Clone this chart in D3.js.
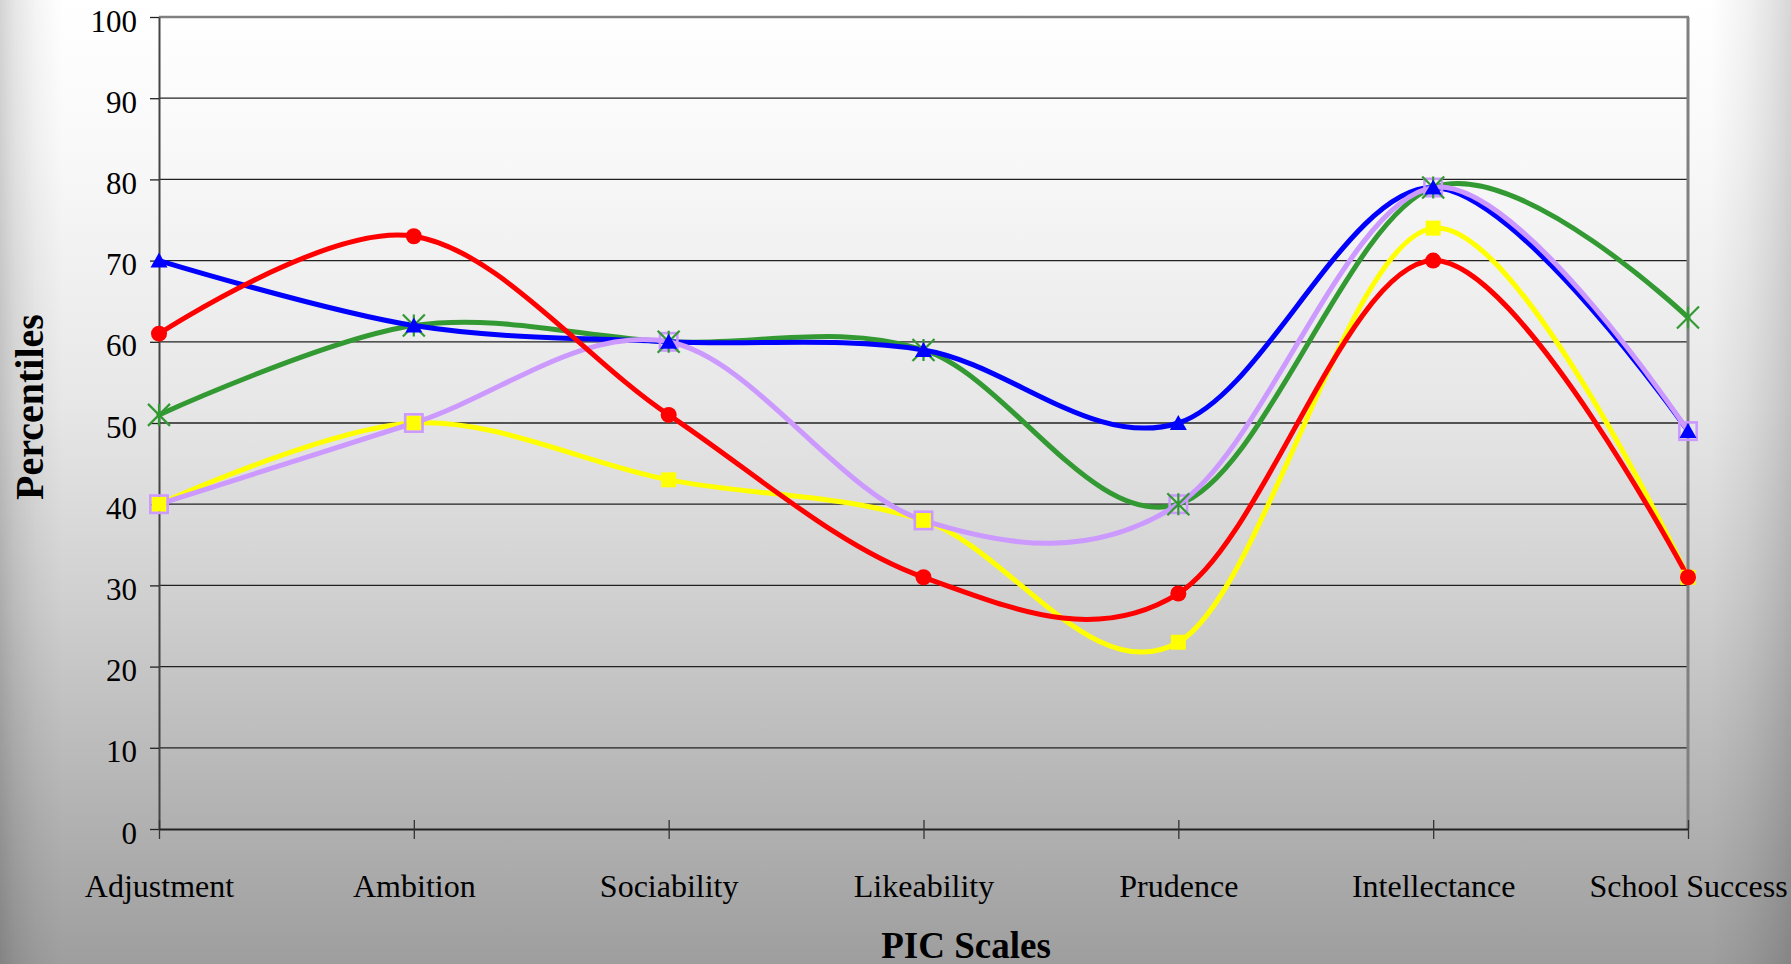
<!DOCTYPE html>
<html>
<head>
<meta charset="utf-8">
<script src="https://cdn.jsdelivr.net/npm/d3@7"></script>
<style>
  html, body { margin: 0; padding: 0; background: #ffffff; }
  svg { display: block; }
</style>
</head>
<body>
<svg id="chart" width="1791" height="964"></svg>
<script>
// PIC scale percentiles, one profile per colour
const categories = ["Adjustment", "Ambition", "Sociability", "Likeability", "Prudence", "Intellectance", "School Success"];
const yTicks = [0, 10, 20, 30, 40, 50, 60, 70, 80, 90, 100];

const greenValues    = [51, 62, 60, 59, 40, 79, 63];
const blueValues     = [70, 62, 60, 59, 50, 79, 49];
const yellowValues   = [40, 50, 43, 38, 23, 74, 31];
const lavenderValues = [40, 50, 60, 38, 40, 79, 49];
const redValues      = [61, 73, 51, 31, 29, 70, 31];

const W = 1791, H = 964;
const plot = { left: 159, right: 1688, top: 17, bottom: 829 };

const svg = d3.select("#chart");
const defs = svg.append("defs");

// Page background: light at the top, darker grey towards the bottom
const vGrad = defs.append("linearGradient").attr("id", "bgV")
  .attr("x1", 0).attr("y1", 0).attr("x2", 0).attr("y2", 1);
[[0, 255], [0.15, 249], [0.42, 231], [0.62, 208], [0.73, 193], [0.86, 176], [1, 158]]
  .forEach(([o, v]) => vGrad.append("stop").attr("offset", o).attr("stop-color", d3.rgb(v, v, v)));

// Side shading along the left and right page edges
const hGrad = defs.append("linearGradient").attr("id", "bgH")
  .attr("x1", 0).attr("y1", 0).attr("x2", 1).attr("y2", 0);
[[0, 0.17], [0.008, 0.1], [0.02, 0.04], [0.035, 0], [0.955, 0], [0.975, 0.05], [0.99, 0.11], [1, 0.16]]
  .forEach(([o, a]) => hGrad.append("stop").attr("offset", o).attr("stop-color", "#000").attr("stop-opacity", a));

svg.append("rect").attr("width", W).attr("height", H).attr("fill", "url(#bgV)");
svg.append("rect").attr("width", W).attr("height", H).attr("fill", "url(#bgH)");

const x = d3.scalePoint().domain(categories).range([plot.left, plot.right]).padding(0);
const y = d3.scaleLinear().domain([0, 100]).range([plot.bottom, plot.top]);

const serif = "'Liberation Serif', 'Times New Roman', Times, serif";

// Horizontal gridlines
svg.append("g").selectAll("line")
  .data(yTicks.filter(t => t > 0 && t < 100))
  .join("line")
  .attr("x1", plot.left).attr("x2", plot.right)
  .attr("y1", d => y(d)).attr("y2", d => y(d))
  .attr("stroke", "#222").attr("stroke-width", 1.3);

// Plot frame: top and right edges in grey
svg.append("line").attr("x1", plot.left).attr("x2", plot.right + 1)
  .attr("y1", plot.top).attr("y2", plot.top)
  .attr("stroke", "#808080").attr("stroke-width", 2.5);
svg.append("line").attr("x1", plot.right).attr("x2", plot.right)
  .attr("y1", plot.top).attr("y2", plot.bottom)
  .attr("stroke", "#808080").attr("stroke-width", 3);

// Y axis
const yAxis = svg.append("g")
  .attr("transform", `translate(${plot.left},0)`)
  .call(d3.axisLeft(y).tickValues(yTicks).tickSize(9).tickSizeOuter(0).tickPadding(13));
yAxis.select(".domain").attr("stroke", "#444").attr("stroke-width", 2);
yAxis.selectAll(".tick line").attr("stroke", "#222").attr("stroke-width", 1.3);
yAxis.selectAll(".tick text")
  .attr("dy", 14).attr("fill", "#000")
  .style("font-family", serif).style("font-size", "31px");

// X axis with ticks crossing the axis line
const xAxis = svg.append("g")
  .attr("transform", `translate(0,${plot.bottom})`)
  .call(d3.axisBottom(x).tickSize(10).tickSizeOuter(0));
xAxis.select(".domain").attr("stroke", "#222").attr("stroke-width", 2);
xAxis.selectAll(".tick line").attr("y1", -9).attr("stroke", "#333").attr("stroke-width", 1.3);
xAxis.selectAll(".tick text")
  .attr("y", 68).attr("dy", 0).attr("fill", "#000")
  .style("font-family", serif).style("font-size", "32px");

// Axis titles
svg.append("text")
  .attr("x", 966).attr("y", 958)
  .attr("text-anchor", "middle")
  .style("font-family", serif).style("font-size", "37px").style("font-weight", "bold")
  .text("PIC Scales");

svg.append("text")
  .attr("transform", "translate(43,407) rotate(-90)")
  .attr("text-anchor", "middle")
  .style("font-family", serif).style("font-size", "40px").style("font-weight", "bold")
  .text("Percentiles");

// Smoothed profile lines
const line = d3.line()
  .x((d, i) => x(categories[i]))
  .y(d => y(d))
  .curve(d3.curveCardinal.tension(0));

const lineOrder = [
  { values: greenValues, color: "#339933" },
  { values: blueValues, color: "#0000FF" },
  { values: yellowValues, color: "#FFFF00" },
  { values: lavenderValues, color: "#CC99FF" },
  { values: redValues, color: "#FF0000" }
];
const lines = svg.append("g").attr("fill", "none").attr("stroke-width", 5)
  .attr("stroke-linejoin", "round").attr("stroke-linecap", "round");
lineOrder.forEach(s => {
  lines.append("path").attr("d", line(s.values)).attr("stroke", s.color);
});

// Markers
const pts = vals => vals.map((v, i) => ({ cx: x(categories[i]), cy: y(v) }));
const marks = svg.append("g");

// yellow filled squares
marks.append("g").selectAll("rect").data(pts(yellowValues)).join("rect")
  .attr("x", d => d.cx - 7.5).attr("y", d => d.cy - 7.5)
  .attr("width", 15).attr("height", 15).attr("fill", "#FFFF00");

// lavender hollow squares
marks.append("g").selectAll("rect").data(pts(lavenderValues)).join("rect")
  .attr("x", d => d.cx - 8.7).attr("y", d => d.cy - 8.7)
  .attr("width", 17.4).attr("height", 17.4)
  .attr("fill", "none").attr("stroke", "#CC99FF").attr("stroke-width", 2.6);

// green stars (X plus vertical stroke)
const starG = marks.append("g").attr("stroke", "#339933").attr("stroke-width", 2.2).attr("fill", "none");
starG.selectAll("path").data(pts(greenValues)).join("path")
  .attr("d", d => {
    const a = 11;
    return `M${d.cx - a},${d.cy - a}L${d.cx + a},${d.cy + a}` +
           `M${d.cx - a},${d.cy + a}L${d.cx + a},${d.cy - a}` +
           `M${d.cx},${d.cy - a}L${d.cx},${d.cy + a}`;
  });

// red circles
marks.append("g").selectAll("circle").data(pts(redValues)).join("circle")
  .attr("cx", d => d.cx).attr("cy", d => d.cy).attr("r", 8).attr("fill", "#FF0000");

// blue triangles
marks.append("g").selectAll("path").data(pts(blueValues)).join("path")
  .attr("d", d => `M${d.cx},${d.cy - 8}L${d.cx + 8.5},${d.cy + 7}L${d.cx - 8.5},${d.cy + 7}Z`)
  .attr("fill", "#0000FF");
</script>
</body>
</html>
